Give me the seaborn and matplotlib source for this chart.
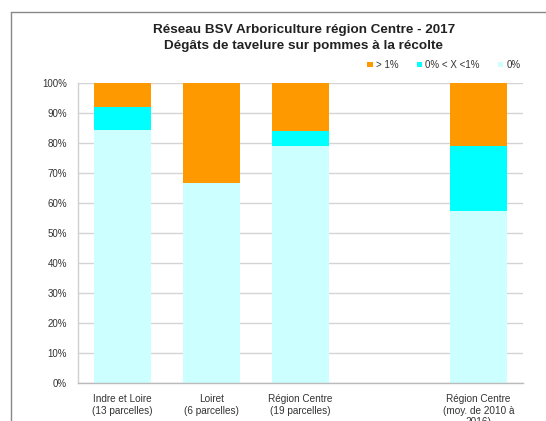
import matplotlib
matplotlib.use("Agg")
import matplotlib.pyplot as plt
import seaborn as sns
import pandas as pd
import numpy as np
from matplotlib.lines import Line2D
from matplotlib.patches import Patch

sns.set_theme(style="white")
plt.rcParams['font.family'] = ['Liberation Sans', 'DejaVu Sans']

categories = ["Indre et Loire\n(13 parcelles)", "Loiret\n(6 parcelles)",
              "Région Centre\n(19 parcelles)", " ",
              "Région Centre\n(moy. de 2010 à\n2016)"]
zero = [84.5, 66.7, 79.0, np.nan, 57.5]
low = [7.5, 0.0, 5.0, np.nan, 21.5]
high = [8.0, 33.3, 16.0, np.nan, 21.0]
series_labels = ["> 1%", "0% < X <1%", "0%"]
colors = ["#FF9900", "#00FFFF", "#CCFFFF"]
yticks = [0, 10, 20, 30, 40, 50, 60, 70, 80, 90, 100]

W, H = 546, 421
fig = plt.figure(figsize=(W / 100, H / 100), dpi=100)
ax = fig.add_axes([78 / W, (H - 383) / H, (523 - 78) / W, 300 / H])

df = pd.DataFrame({"cat": categories,
                   "zero": zero, "low": low, "high": high})
df["c1"] = df["zero"]
df["c2"] = df["zero"] + df["low"]
df["c3"] = df["zero"] + df["low"] + df["high"]

for col, color in zip(["c3", "c2", "c1"], colors):
    sns.barplot(data=df, x="cat", y=col, order=categories, color=color,
                width=0.65, saturation=1, ax=ax, zorder=2, edgecolor="none")

ax.set_ylim(0, 100)
ax.set_xlim(-0.5, 4.5)
ax.set_yticks(yticks)
ax.set_yticklabels([f"{v}%" for v in yticks], fontsize=7, color="#333333")
ax.tick_params(axis="x", labelsize=7.2, colors="#333333", length=0, pad=8)
ax.tick_params(axis="y", length=0, pad=8)
ax.set_xlabel("")
ax.set_ylabel("")
ax.grid(axis="y", color="#D4D4D4", linewidth=1, zorder=0)
ax.set_axisbelow(True)
for s in ["top", "right"]:
    ax.spines[s].set_visible(False)
ax.spines["left"].set_color("#D0D0D0")
ax.spines["bottom"].set_color("#BBBBBB")
ax.spines["left"].set_linewidth(1)
ax.spines["bottom"].set_linewidth(1)

fig.text(304 / W, 1 - 30 / H, "Réseau BSV Arboriculture région Centre - 2017",
         ha="center", va="center", fontsize=9.7, fontweight="bold", color="#222222")
fig.text(304 / W, 1 - 46 / H, "Dégâts de tavelure sur pommes à la récolte",
         ha="center", va="center", fontsize=9.7, fontweight="bold", color="#222222")

handles = [Patch(facecolor=c, edgecolor="none") for c in colors]
fig.legend(handles, series_labels, loc="center right",
           bbox_to_anchor=(529 / W, 1 - 65 / H), ncol=3, frameon=False,
           fontsize=7, handlelength=0.55, handleheight=0.55,
           handletextpad=0.3, columnspacing=1.9, labelcolor="#333333")

# outer frame (chart area border, partially visible)
fig.add_artist(Line2D([11 / W, 1], [1 - 12 / H, 1 - 12 / H],
                      transform=fig.transFigure, color="#888888", linewidth=1))
fig.add_artist(Line2D([11 / W, 11 / W], [0, 1 - 12 / H],
                      transform=fig.transFigure, color="#888888", linewidth=1))

fig.savefig("out.png", dpi=100)
